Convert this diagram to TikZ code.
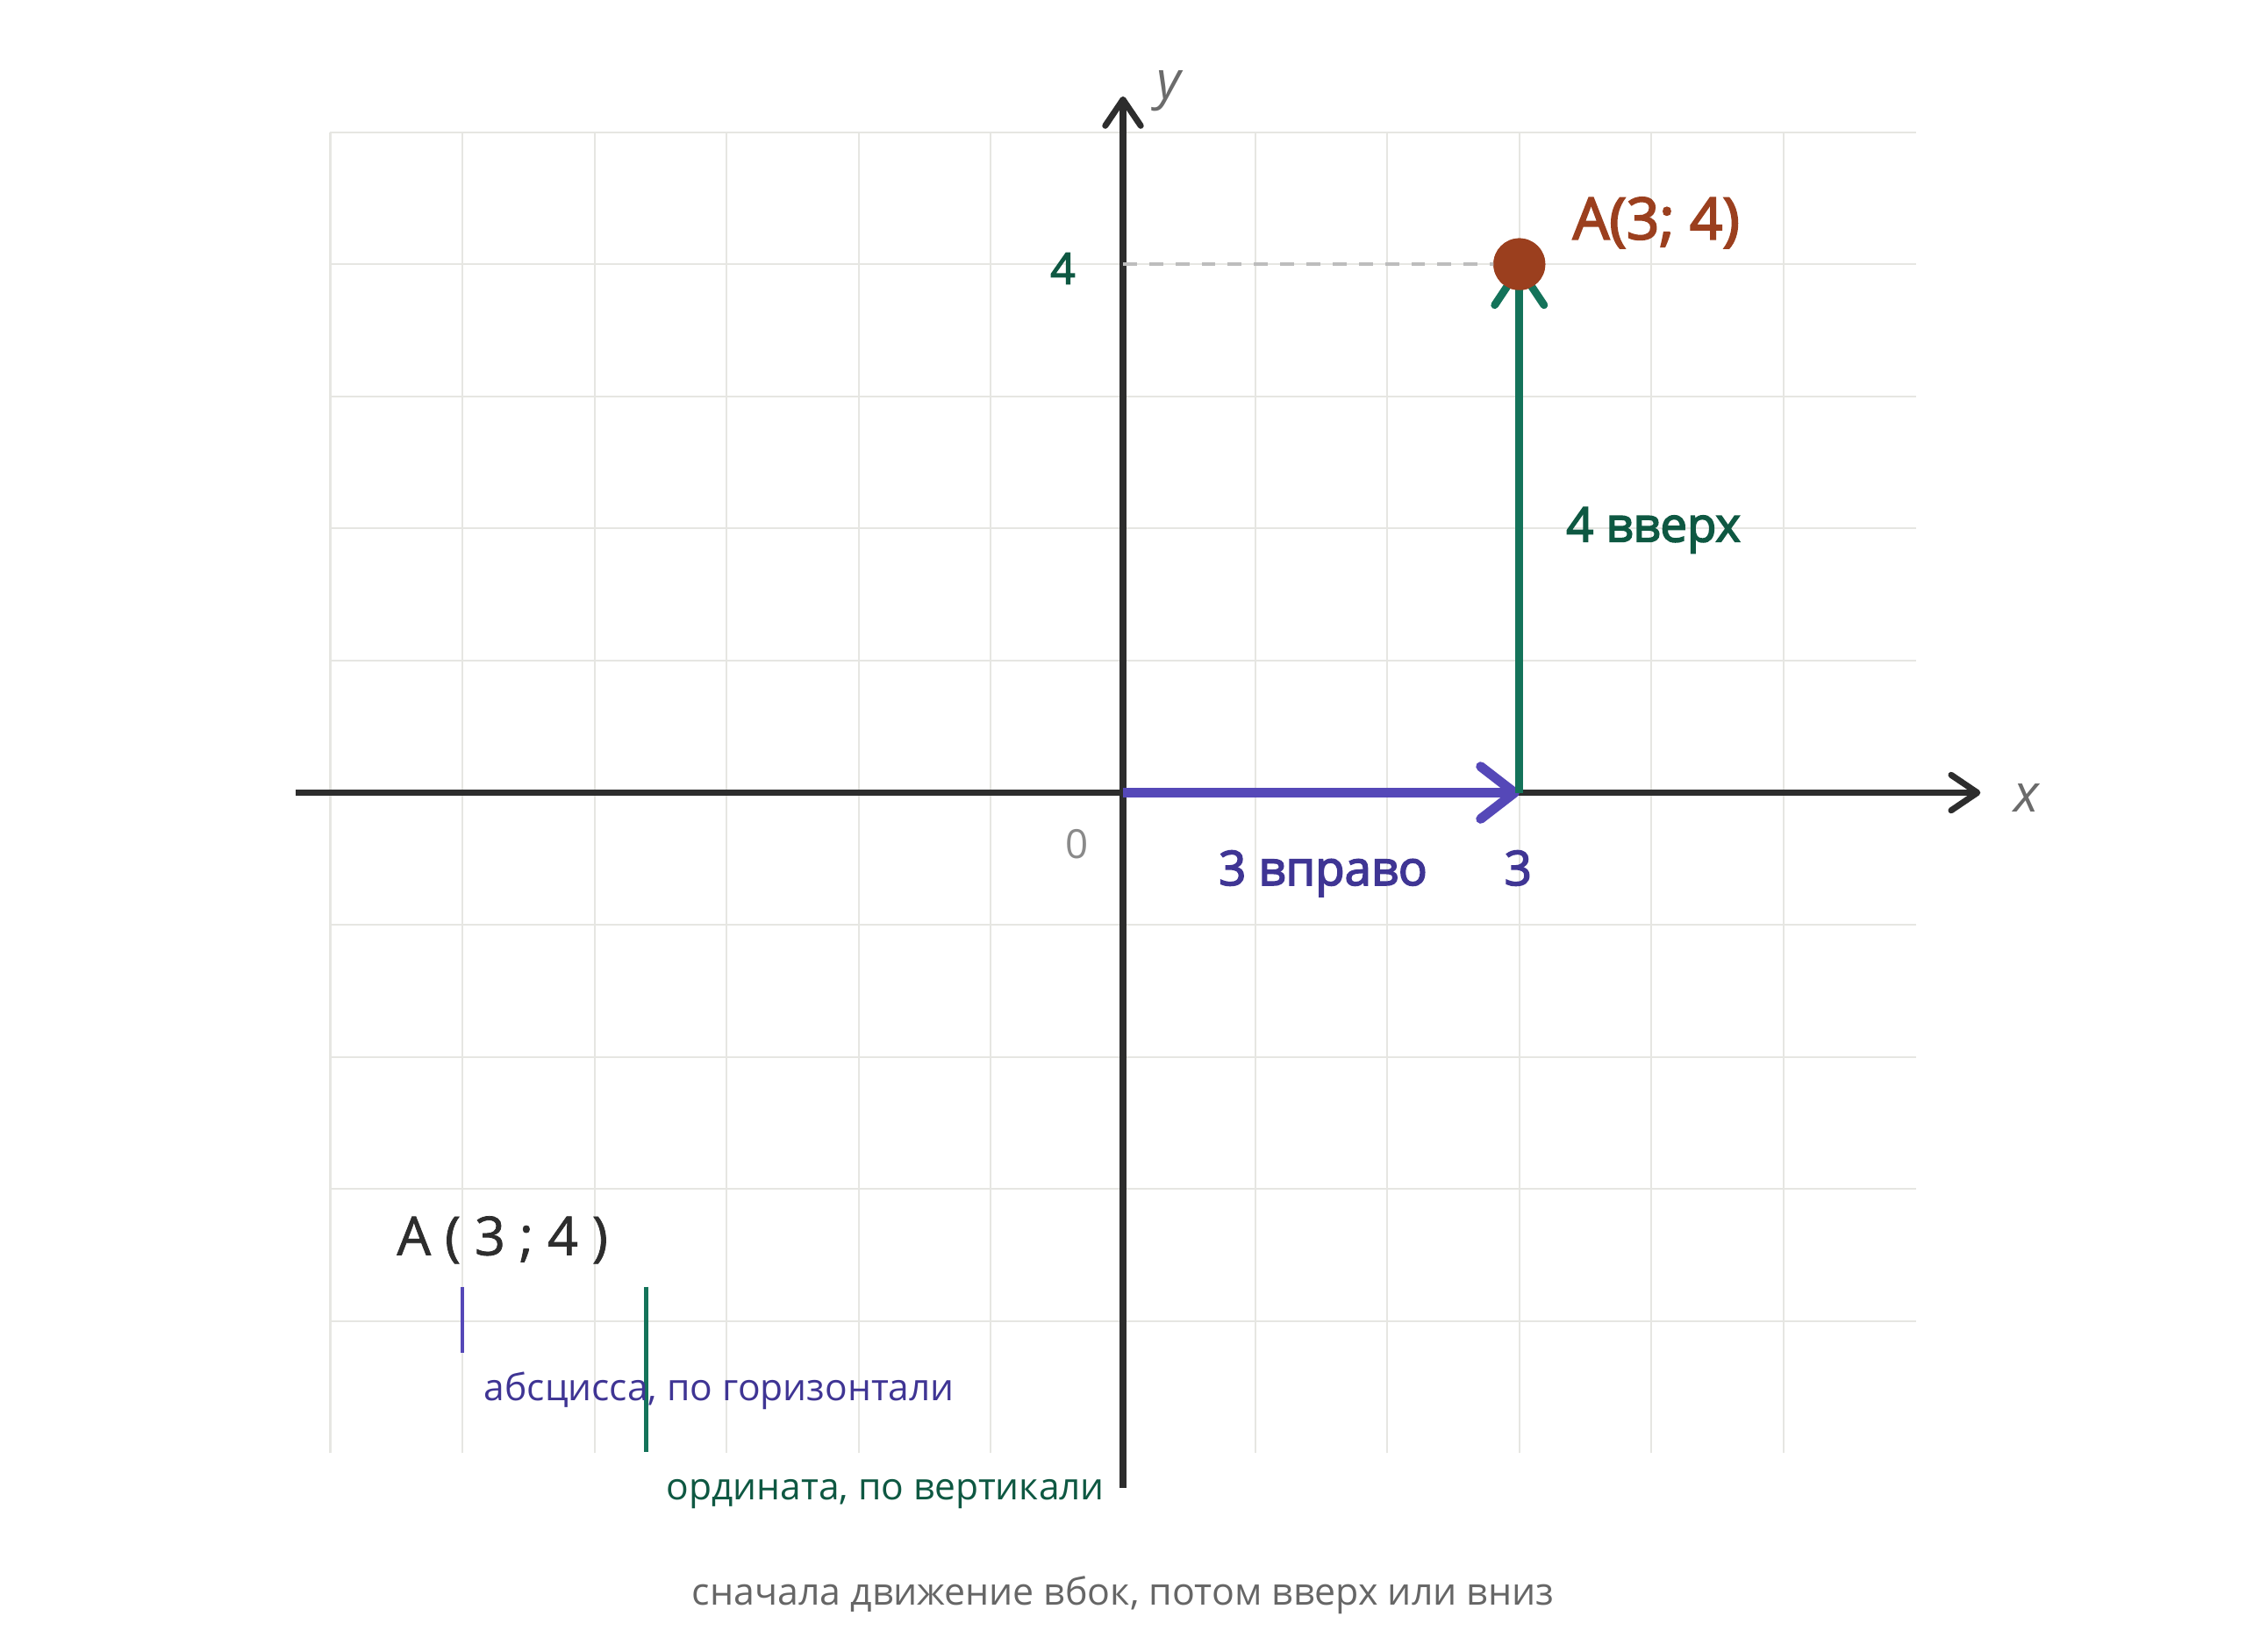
\documentclass[tikz,border=0pt]{standalone}
\usepackage{fontspec}
\setmainfont{Open Sans}
\newfontfamily\semib{Open Sans}[FakeBold=3]
\newfontfamily\medf{Open Sans}[FakeBold=1.2]
\usetikzlibrary{arrows.meta}
\definecolor{axisc}{HTML}{2D2D2D}
\definecolor{gridc}{HTML}{E6E6E2}
\definecolor{bluea}{HTML}{5548B8}
\definecolor{bluet}{HTML}{3F3594}
\definecolor{greena}{HTML}{14735A}
\definecolor{greent}{HTML}{0E5842}
\definecolor{dotc}{HTML}{9B3F1E}
\definecolor{capc}{HTML}{666666}
\definecolor{labc}{HTML}{6B6B6B}
\definecolor{zeroc}{HTML}{8A8A8A}
\definecolor{dashc}{HTML}{BDBDBD}
\tikzset{
  gridline/.style={draw=gridc, line width=0.6pt},
  axisline/.style={draw=axisc, line width=2pt, -{Straight Barb[length=8.5pt,width=11.5pt,round]}},
  bluearrow/.style={draw=bluea, line width=3.1pt, -{Straight Barb[length=11pt,width=17pt,round]}},
  greenarrow/.style={draw=greena, line width=2.5pt, -{Straight Barb[length=12pt,width=16pt,round]}},
  guide/.style={draw=dashc, line width=1pt, dash pattern=on 4.5pt off 4pt},
  txt/.style={inner sep=0pt, anchor=base west},
  boldlab/.style={txt, font=\semib\fontsize{15.5}{18}\selectfont},
  dotstyle/.style={circle, fill=dotc, minimum size=0.392*1.506cm, inner sep=0pt},
}
\begin{document}
\begin{tikzpicture}[x=1.506cm, y=1.506cm]
\useasboundingbox[fill=white] (-8.5,-6.5) rectangle (8.5,6);
% grid
\foreach \i in {-6,...,5} \draw[gridline] (\i,-5) -- (\i,5);
\foreach \j in {-4,...,5} \draw[gridline] (-6,\j) -- (6,\j);
% coordinates
\coordinate (xl) at (-6.26,0);
\coordinate (xr) at (6.49,0);
\coordinate (yb) at (0,-5.26);
\coordinate (yt) at (0,5.27);
\coordinate (O) at (0,0);
\coordinate (P3) at (3,0);
\coordinate (Y4) at (0,4);
% axes
\draw[axisline] (xl) -- (xr);
\draw[axisline] (yb) -- (yt);
% point node
\node[dotstyle] (A) at (3,4) {};
% guide and arrows
\draw[guide] (Y4) -- (A.center);
\draw[bluearrow] (O) -- (P3);
\draw[greenarrow] (P3) -- (A.center);
\node[dotstyle] (Adot) at (A.center) {};
% axis labels
\node[txt, text=labc, font=\fontsize{17}{20}\selectfont\itshape] (ylab) at (0.25,5.25) {y};
\node[txt, text=labc, font=\fontsize{17}{20}\selectfont\itshape] (xlab) at (6.74,-0.146) {x};
\node[inner sep=0pt, anchor=base, text=zeroc, font=\fontsize{13}{15}\selectfont] (zero) at (-0.35,-0.5) {0};
\node[inner sep=0pt, anchor=base, text=greent, font=\semib\fontsize{14}{16}\selectfont] (four) at (-0.455,3.85) {4};
\node[inner sep=0pt, anchor=base, text=bluet, font=\semib\fontsize{15.5}{18}\selectfont] (three) at (2.99,-0.70) {3};
\node[boldlab, text=bluet] (right) at (0.72,-0.70) {3 вправо};
\node[boldlab, text=greent] (up) at (3.35,1.90) {4 вверх};
\node[txt, text=dotc, font=\semib\fontsize{18.7}{22}\selectfont] (Alab) at (3.40,4.19) {A(3; 4)};
% legend
\node[txt, text=axisc, font=\medf\fontsize{17.4}{20}\selectfont] (Aform) at (-5.5,-3.50) {A ( 3 ; 4 )};
\coordinate (t1a) at (-5,-3.74);
\coordinate (t1b) at (-5,-4.24);
\coordinate (t2a) at (-3.61,-3.74);
\coordinate (t2b) at (-3.61,-4.99);
\draw[draw=bluea, line width=1.3pt] (t1a) -- (t1b);
\draw[draw=greena, line width=1.4pt] (t2a) -- (t2b);
\node[txt, text=bluet, font=\fontsize{12.1}{15}\selectfont] (absc) at (-4.84,-4.6) {абсцисса, по горизонтали};
\node[txt, text=greent, font=\fontsize{12.1}{15}\selectfont] (ordi) at (-3.46,-5.35) {ордината, по вертикали};
\node[inner sep=0pt, anchor=base, text=capc, font=\fontsize{12.2}{15}\selectfont] (cap) at (0,-6.15) {сначала движение вбок, потом вверх или вниз};
\end{tikzpicture}
\end{document}
